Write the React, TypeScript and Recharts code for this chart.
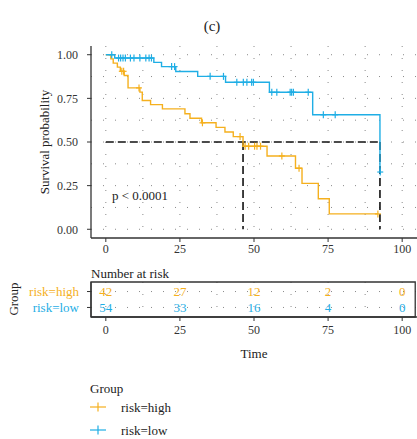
import React from 'react';
import {
  ComposedChart,
  Line,
  Scatter,
  XAxis,
  YAxis,
  CartesianGrid,
  ReferenceLine,
  ReferenceArea,
} from 'recharts';

const FONT = '"Liberation Serif", "Times New Roman", serif';
const HIGH = '#F5B01E';
const LOW = '#1FAEE5';
const AXIS = '#333333';

// Kaplan-Meier steps
const highTimes = [0, 1.7, 2.5, 3.9, 4.9, 6.2, 7.5, 11.5, 12.3, 15.1, 19.1, 26.7, 28.4, 32.3, 37.2, 40.2, 43, 46.3, 54.4, 64, 66.2, 71.7, 75.4, 91.8];
const highSurv = [1, 0.976, 0.952, 0.929, 0.905, 0.881, 0.81, 0.786, 0.738, 0.714, 0.69, 0.662, 0.636, 0.61, 0.584, 0.557, 0.531, 0.476, 0.42, 0.35, 0.263, 0.175, 0.088, 0.088];
const highCensor = [5.4, 6.0, 11.2, 32.6, 45.3, 47, 48.2, 50.2, 51, 52.2, 59.4, 65.2, 91.8];

const lowTimes = [0, 3, 16.2, 18.8, 23.6, 31, 40.4, 55.2, 69.8, 92.5];
const lowSurv = [1, 0.981, 0.956, 0.932, 0.904, 0.876, 0.842, 0.785, 0.656, 0.328];
const lowCensor = [2, 4.3, 5, 5.8, 6.6, 8.3, 9.5, 11.5, 13.5, 14.6, 15.4, 22.2, 23.2, 35.2, 39.7, 44.2, 46.4, 47.6, 49.2, 49.8, 56, 57.7, 62.2, 62.7, 63.3, 68.3, 73.4, 77.4, 92.6];

const medianLevel = 0.5;
const medianTimes = [46.3, 92.5];

// number at risk table
const riskTimes = [0, 25, 50, 75, 100];
const riskHigh = [42, 27, 12, 2, 0];
const riskLow = [54, 33, 16, 4, 0];

const xTicks = [0, 25, 50, 75, 100];
const yTicks = [0, 0.25, 0.5, 0.75, 1];
const gridX = [0, 12.5, 25, 37.5, 50, 62.5, 75, 87.5, 100];
const gridY = [0, 0.125, 0.25, 0.375, 0.5, 0.625, 0.75, 0.875, 1];

const survAt = (times: number[], surv: number[], t: number) => {
  let s = surv[0];
  for (let i = 0; i < times.length; i++) if (times[i] <= t) s = surv[i];
  return s;
};

const highLine = highTimes.map((t, i) => ({ t, s: highSurv[i] }));
const lowLine = lowTimes.map((t, i) => ({ t, s: lowSurv[i] }));
const highMarks = highCensor.map((t) => ({ t, s: survAt(highTimes, highSurv, t) }));
const lowMarks = lowCensor.map((t) => ({ t, s: survAt(lowTimes, lowSurv, t) }));

const highRisk = riskTimes.map((t, i) => ({ t, row: 2, n: riskHigh[i] }));
const lowRisk = riskTimes.map((t, i) => ({ t, row: 1, n: riskLow[i] }));

const cross = (color: string) => (p: any) => (
  <g>
    <line x1={p.cx - 3} x2={p.cx + 3} y1={p.cy} y2={p.cy} stroke={color} strokeWidth={1.2} />
    <line x1={p.cx} x2={p.cx} y1={p.cy - 3.5} y2={p.cy + 3.5} stroke={color} strokeWidth={1.2} />
  </g>
);

const riskText = (color: string) => (p: any) => (
  <text x={p.cx} y={p.cy} textAnchor="middle" dominantBaseline="central" fill={color} fontSize={13} fontFamily={FONT}>
    {p.payload.n}
  </text>
);

const RowTick = (p: any) => (
  <text x={p.x} y={p.y} textAnchor="end" dominantBaseline="central" fill={p.payload.value === 2 ? HIGH : LOW} fontSize={13} fontFamily={FONT}>
    {p.payload.value === 2 ? 'risk=high' : 'risk=low'}
  </text>
);

const tickStyle = { fontSize: 12, fill: AXIS, fontFamily: FONT };

const Txt = ({ x, y, children, size = 13, color = '#222', anchor = 'left', rotate = false }: any) => (
  <div
    style={{
      position: 'absolute',
      left: x,
      top: y,
      fontSize: size,
      lineHeight: 1,
      color,
      whiteSpace: 'nowrap',
      transform: rotate
        ? 'translate(-50%, -50%) rotate(-90deg)'
        : anchor === 'center'
        ? 'translate(-50%, -50%)'
        : 'translate(0, -50%)',
    }}
  >
    {children}
  </div>
);

const LegendCross = ({ color }: { color: string }) => (
  <svg width={18} height={12} style={{ display: 'block' }}>
    <line x1={1} x2={17} y1={6} y2={6} stroke={color} strokeWidth={1.2} />
    <line x1={9} x2={9} y1={1.5} y2={10.5} stroke={color} strokeWidth={1.2} />
  </svg>
);

export default function App() {
  return (
    <div style={{ position: 'absolute', left: 0, top: 0, width: 417, height: 439, background: '#fff', fontFamily: FONT, overflow: 'hidden' }}>
      <div style={{ position: 'absolute', left: 0, top: 0 }}>
        <ComposedChart width={417} height={262} margin={{ top: 46, right: 0, bottom: 0, left: 0 }}>
          <CartesianGrid horizontalValues={gridY} verticalValues={gridX} stroke="#8a8a8a" strokeDasharray="1 11" />
          <XAxis
            xAxisId={0}
            dataKey="t"
            type="number"
            domain={[-5, 105]}
            ticks={xTicks}
            allowDataOverflow
            height={24}
            tick={tickStyle}
            tickSize={4}
            tickMargin={2}
            stroke={AXIS}
            axisLine={{ stroke: AXIS, strokeWidth: 1.3 }}
          />
          <XAxis xAxisId="top" orientation="top" dataKey="t" type="number" domain={[-5, 105]} height={0} tick={false} tickLine={false} axisLine={{ stroke: AXIS, strokeWidth: 1.3 }} />
          <YAxis
            dataKey="s"
            type="number"
            domain={[-0.05, 1.05]}
            ticks={yTicks}
            interval={0}
            allowDataOverflow
            width={91}
            tick={tickStyle}
            tickSize={4}
            tickMargin={9}
            stroke={AXIS}
            axisLine={{ stroke: AXIS, strokeWidth: 1.3 }}
            tickFormatter={(v: number) => v.toFixed(2)}
          />
          <ReferenceLine
            segment={[{ x: 0, y: medianLevel }, { x: medianTimes[1], y: medianLevel }]}
            stroke="#111"
            strokeWidth={1.6}
            strokeDasharray="8 4"
          />
          {medianTimes.map((m) => (
            <ReferenceLine key={m} segment={[{ x: m, y: medianLevel }, { x: m, y: 0 }]} stroke="#111" strokeWidth={1.6} strokeDasharray="8 4" />
          ))}
          <Line data={highLine} dataKey="s" type="stepAfter" stroke={HIGH} strokeWidth={1.4} dot={false} isAnimationActive={false} />
          <Line data={lowLine} dataKey="s" type="stepAfter" stroke={LOW} strokeWidth={1.4} dot={false} isAnimationActive={false} />
          <Scatter data={highMarks} shape={cross(HIGH)} isAnimationActive={false} />
          <Scatter data={lowMarks} shape={cross(LOW)} isAnimationActive={false} />
        </ComposedChart>
      </div>

      <div style={{ position: 'absolute', left: 0, top: 270 }}>
        <ComposedChart width={417} height={90} margin={{ top: 12, right: 0, bottom: 0, left: 0 }}>
          <CartesianGrid horizontalValues={[1, 2]} verticalValues={gridX} stroke="#8a8a8a" strokeDasharray="1 11" />
          <ReferenceArea x1={-5} x2={104.4} y1={0.4} y2={2.6} fill="none" stroke={AXIS} strokeWidth={1.3} />
          <XAxis
            dataKey="t"
            type="number"
            domain={[-5, 105]}
            ticks={xTicks}
            allowDataOverflow
            height={43}
            tick={tickStyle}
            tickSize={4}
            tickMargin={4}
            stroke={AXIS}
            axisLine={{ stroke: AXIS, strokeWidth: 1.3 }}
            label={{ value: 'Time', position: 'insideBottom', offset: 2, fontSize: 13, fill: '#222', fontFamily: FONT }}
          />
          <YAxis
            dataKey="row"
            type="number"
            domain={[0.4, 2.6]}
            ticks={[1, 2]}
            interval={0}
            width={91}
            tick={<RowTick />}
            tickSize={4}
            tickMargin={8}
            stroke={AXIS}
            axisLine={{ stroke: AXIS, strokeWidth: 1.3 }}
          />
          <Scatter data={highRisk} shape={riskText(HIGH)} isAnimationActive={false} />
          <Scatter data={lowRisk} shape={riskText(LOW)} isAnimationActive={false} />
        </ComposedChart>
      </div>

      <Txt x={212} y={26} size={15} anchor="center">(c)</Txt>
      <Txt x={44} y={142} size={13} rotate>Survival probability</Txt>
      <Txt x={112} y={195} size={13}>p &lt; 0.0001</Txt>
      <Txt x={91} y={273} size={13}>Number at risk</Txt>
      <Txt x={13} y={299} size={13} rotate>Group</Txt>

      <Txt x={90} y={388} size={13}>Group</Txt>
      <div style={{ position: 'absolute', left: 89, top: 401 }}><LegendCross color={HIGH} /></div>
      <Txt x={121} y={407} size={13}>risk=high</Txt>
      <div style={{ position: 'absolute', left: 89, top: 424 }}><LegendCross color={LOW} /></div>
      <Txt x={121} y={430} size={13}>risk=low</Txt>
    </div>
  );
}
